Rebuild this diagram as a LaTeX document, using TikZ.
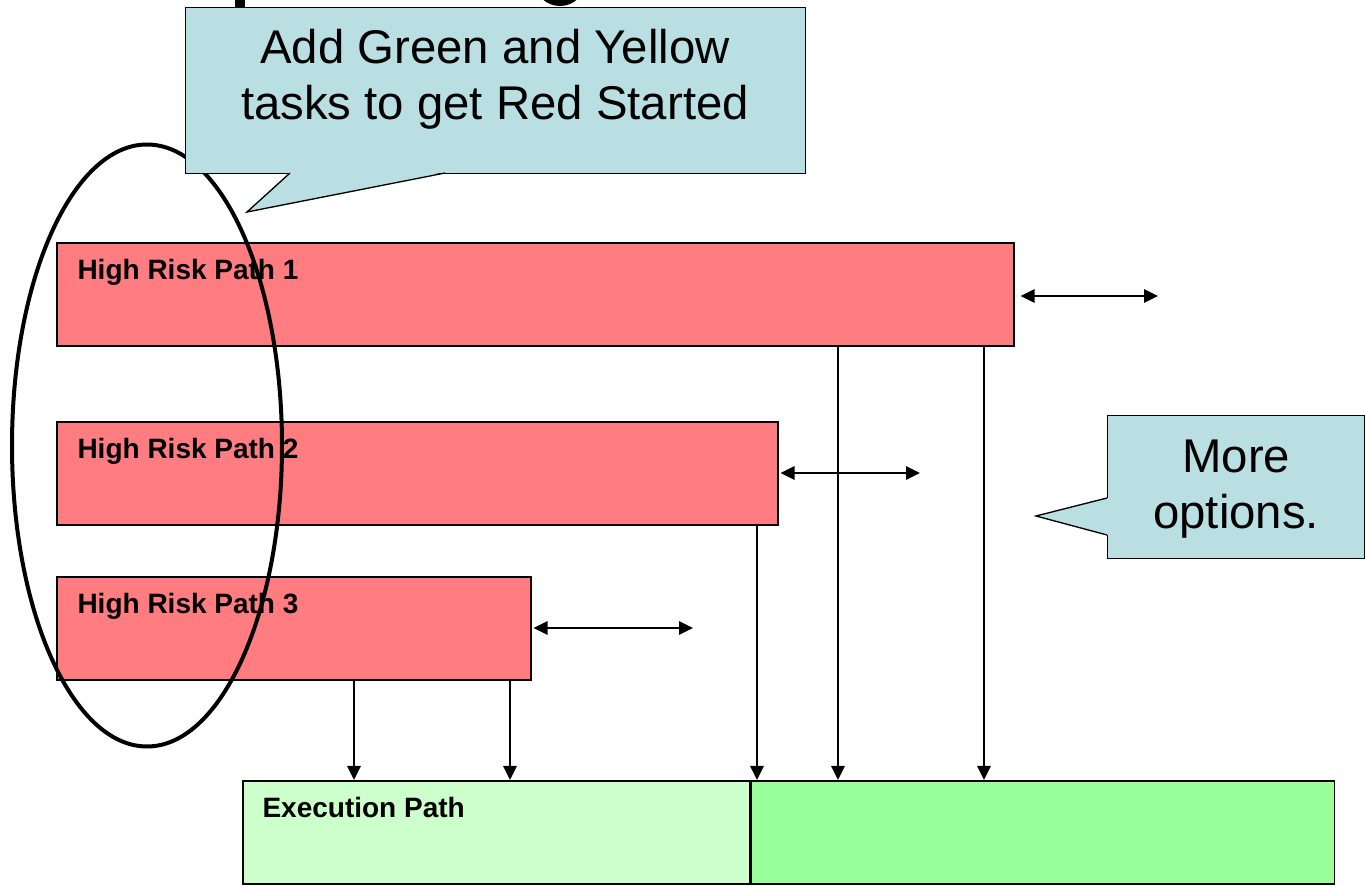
\documentclass[tikz,border=0pt]{standalone}
\usepackage{fontspec}
\setmainfont{Liberation Sans}
\usetikzlibrary{arrows.meta,calc,positioning}
\definecolor{riskred}{RGB}{255,124,128}
\definecolor{execlight}{RGB}{204,255,204}
\definecolor{execdark}{RGB}{153,255,153}
\definecolor{notefill}{RGB}{185,223,227}
\begin{document}
\begin{tikzpicture}[x=0.75pt,y=-0.75pt,>={Triangle[length=10.5pt,width=10pt]},thick,
    risk box/.style={rectangle,draw,line width=1.2pt,fill=riskred,anchor=north west,minimum height=77.25pt,inner sep=0pt},
    exec box/.style={rectangle,draw,line width=1.2pt,anchor=north west,minimum height=77.25pt,inner sep=0pt},
    box label/.style={anchor=base west,font=\fontsize{21}{25}\selectfont\bfseries,inner sep=0pt},
    note/.style={rectangle,draw,line width=1pt,fill=notefill,anchor=north west,inner sep=0pt},
    note text/.style={align=center,font=\fontsize{35.5}{42}\selectfont,inner sep=0pt},
    link/.style={line width=1.5pt}]

            \useasboundingbox (0,0) rectangle (1365,887);

            \begin{scope}
                \clip (0,0) rectangle (1365,8);
                \fill (235,-20) rectangle (245,8);
                \draw[line width=6pt] (560,-18) ellipse [x radius=15.75pt, y radius=15pt];
            \end{scope}

            \node[risk box, minimum width=717.75pt] (r1) at (56,242) {};
            \node[risk box, minimum width=540.75pt] (r2) at (56,421) {};
            \node[risk box, minimum width=355.5pt] (r3) at (56,576) {};

            \node[exec box, fill=execlight, minimum width=380.25pt] (ex) at (242,780) {};
            \node[exec box, fill=execdark, minimum width=437.25pt] (ex2) [right=0pt of ex.north east, anchor=north west] {};

            \node[box label] at ($(r1.north west)+(21,38)$) {High Risk Path 1};
            \node[box label] at ($(r2.north west)+(21,38)$) {High Risk Path 2};
            \node[box label] at ($(r3.north west)+(21,38)$) {High Risk Path 3};
            \node[box label] at ($(ex.north west)+(20,37)$) {Execution Path};

            \coordinate (o1) at (1158,296);
            \coordinate (o2) at (920,473);
            \coordinate (o3) at (693,628);
            \draw[link,<->] ([xshift=4.5pt]r1.east |- o1) -- (o1);
            \draw[link,<->] ([xshift=1.5pt]r2.east |- o2) -- (o2);
            \draw[link,<->] ([xshift=1.5pt]r3.east |- o3) -- (o3);

            \coordinate (d1) at (838,345);
            \coordinate (d2) at (984,345);
            \coordinate (d3) at (757,524);
            \coordinate (d4) at (354,679);
            \coordinate (d5) at (510,679);
            \foreach \d in {d1,d2,d3,d4,d5}
                \draw[link,->] (\d) -- (\d |- ex.north);

            \draw[line width=3pt] (147,445.5) ellipse [x radius=101.25pt, y radius=225.75pt];

            \node[note, minimum width=465pt, minimum height=124.5pt] (n1) at (185,7) {};
            \coordinate (t1) at (247,212);
            \fill[notefill] (290,172) -- (t1) -- (445,172) -- cycle;
            \draw[line width=1pt] (290,173) -- (t1) -- (445,173);
            \node[note text] at (495,79) {Add Green and Yellow\\tasks to get Red Started};

            \node[note, minimum width=192.75pt, minimum height=107.25pt] (n2) at (1107,415) {};
            \coordinate (t2) at (1036,516);
            \fill[notefill] (1108,498) -- (t2) -- (1108,535) -- cycle;
            \draw[line width=1pt] (1107,498) -- (t2) -- (1107,535);
            \node[note text] at ([yshift=-1.5pt]n2.center) {More\\options.};

\end{tikzpicture}
\end{document}
